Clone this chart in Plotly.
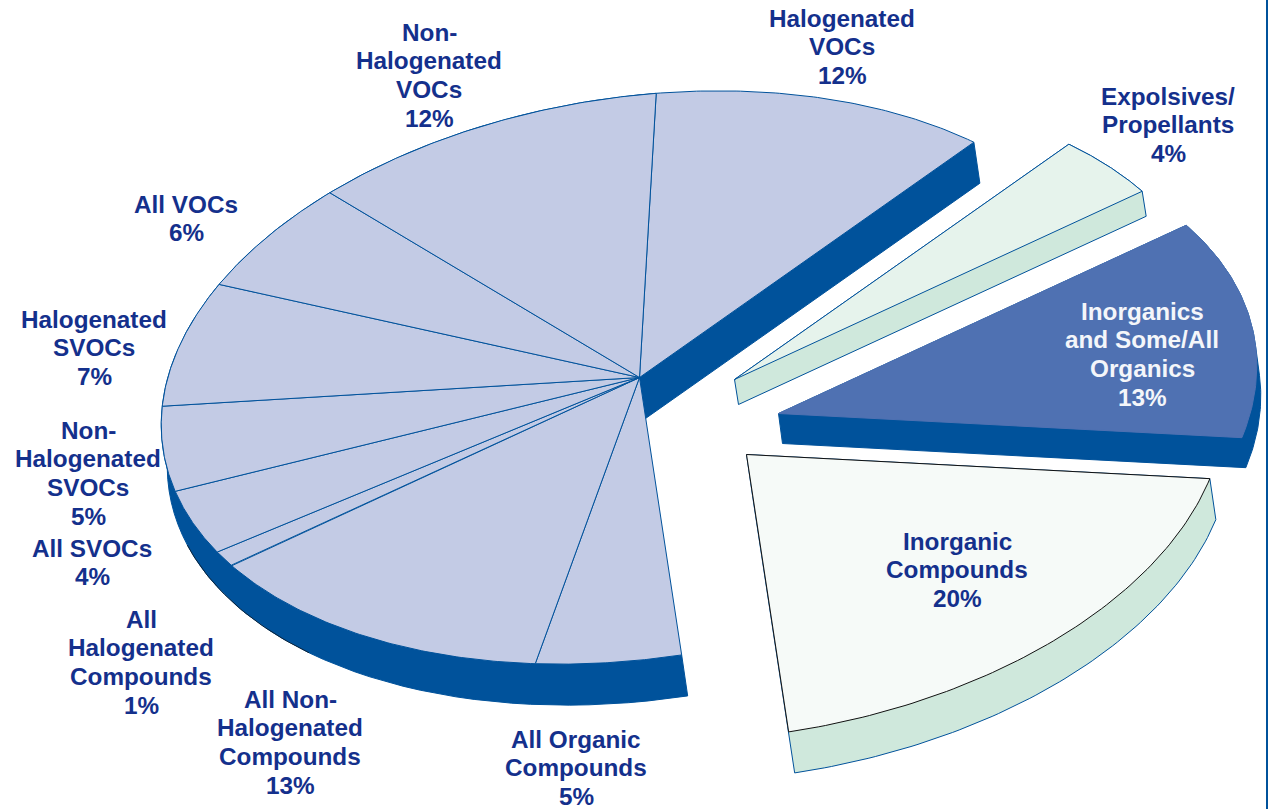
import numpy as np
import plotly.graph_objects as go

# ---- data ----
categories = ["Halogenated VOCs", "Expolsives/ Propellants", "Inorganics and Some/All Organics",
              "Inorganic Compounds", "All Organic Compounds", "All Non-Halogenated Compounds",
              "All Halogenated Compounds", "All SVOCs", "Non-Halogenated SVOCs",
              "Halogenated SVOCs", "All VOCs", "Non-Halogenated VOCs"]
percent = [12, 4, 13, 20, 5, 13, 1, 4, 5, 7, 6, 12]
label_lines = [
    ["Halogenated", "VOCs"], ["Expolsives/", "Propellants"], ["Inorganics", "and Some/All", "Organics"],
    ["Inorganic", "Compounds"], ["All Organic", "Compounds"], ["All Non-", "Halogenated", "Compounds"],
    ["All", "Halogenated", "Compounds"], ["All SVOCs"], ["Non-", "Halogenated", "SVOCs"],
    ["Halogenated", "SVOCs"], ["All VOCs"], ["Non-", "Halogenated", "VOCs"]]

# ---- layout / style (pixels) ----
W, H = 1270, 809
CENTER = np.array([639.5, 377.5])
OFF = 0.31
MX = np.array([[460.3, -129.9], [-122.4, -259.2]])   # tilt of the pie disc
label_pos = [(842, 18), (1168, 96), (1142, 311), (957, 541), (576, 739), (290, 699),
             (141, 619), (92, 548), (88, 430), (94, 319), (186, 204), (429, 32)]
PITCH = 28.9
pull = {1: (95, 2), 2: (139, 36), 3: (107, 77)}
depth = {"main": (6, 41), 1: (4, 25), 2: (4, 30), 3: (6, 41)}
NAVY = "#00529B"
TEXT = "#14308C"
MAIN_TOP = "#C3CBE5"
style = {1: dict(top="#E6F3EC", side="#CFE8DC", line=NAVY, side_line=NAVY),
         2: dict(top="#4F71B2", side=NAVY, line="#4F71B2", side_line=NAVY),
         3: dict(top="#F6FAF8", side="#CFE8DC", line="#111111", side_line=NAVY)}

shares = np.array(percent, float) / sum(percent)
edges = np.r_[0, np.cumsum(shares)] * 2 * np.pi


def rim(t0, t1, n=80):
    t = np.linspace(t0, t1, n) + OFF
    return (MX @ np.vstack([np.sin(t), np.cos(t)])).T + CENTER


def hull(p):
    p = sorted(map(tuple, np.round(p, 3)))
    def half(q):
        out = []
        for a in q:
            while len(out) > 1 and (out[-1][0]-out[-2][0])*(a[1]-out[-2][1]) - (out[-1][1]-out[-2][1])*(a[0]-out[-2][0]) <= 0:
                out.pop()
            out.append(a)
        return out[:-1]
    h = half(p) + half(p[::-1])
    return np.array(h + h[:1])


fig = go.Figure()


def poly(p, fill, line=None, width=1, name=""):
    fig.add_trace(go.Scatter(x=p[:, 0], y=p[:, 1], mode="lines", fill="toself", fillcolor=fill,
                             line=dict(color=line or fill, width=width), name=name,
                             hoverinfo="name", showlegend=False))


# main body: side first, then the flat slices
main_idx = [0] + list(range(4, 12))
dm = np.array(depth["main"])
arc = rim(edges[4], edges[12])
poly(np.vstack([arc, (arc + dm)[::-1], arc[:1]]), NAVY, name="side")
end0 = rim(edges[1], edges[1], 1)[0]
poly(np.array([CENTER, end0, end0 + dm, CENTER + dm, CENTER]), NAVY, name="side")
# faint dark shadow edge along the lower-left of the side wall
sh = rim(edges[5] + 0.7 * (edges[6] - edges[5]), edges[7] + 0.8 * (edges[8] - edges[7]), 40) + dm
fig.add_trace(go.Scatter(x=sh[:, 0], y=sh[:, 1], mode="lines", line=dict(color="#0A2238", width=1),
                         hoverinfo="skip", showlegend=False))
for i in main_idx:
    a = rim(edges[i], edges[i + 1])
    poly(np.vstack([CENTER, a, CENTER]), MAIN_TOP, NAVY, 1, categories[i])

# pulled slices
for i in (1, 2, 3):
    a = np.vstack([CENTER, rim(edges[i], edges[i + 1])]) + np.array(pull[i])
    s = style[i]
    poly(hull(np.vstack([a, a + np.array(depth[i])])), s["side"], s["side_line"], 1, categories[i])
    poly(np.vstack([a, a[:1]]), s["top"], s["line"], 1, categories[i])

# labels, one line at a time so the line pitch matches
for i, lines in enumerate(label_lines):
    x, y = label_pos[i]
    for k, t in enumerate(lines + [f"{percent[i]}%"]):
        fig.add_annotation(x=x, y=y + k * PITCH, text=t, showarrow=False, xref="x", yref="y",
                           xanchor="center", yanchor="middle",
                           font=dict(family="Liberation Sans", size=24.3, weight="bold",
                                     color="#F4F6FA" if i == 2 else TEXT))

fig.add_shape(type="line", x0=1267, x1=1267, y0=0, y1=H, xref="x", yref="y",
              line=dict(color=NAVY, width=2))
fig.update_layout(width=W, height=H, margin=dict(l=0, r=0, t=0, b=0),
                  paper_bgcolor="white", plot_bgcolor="white", showlegend=False,
                  xaxis=dict(range=[0, W], visible=False, fixedrange=True),
                  yaxis=dict(range=[H, 0], visible=False, fixedrange=True))
fig.write_html("out.html", post_script="document.body.style.margin='0';document.body.style.overflow='hidden';",
               config={"displayModeBar": False})
